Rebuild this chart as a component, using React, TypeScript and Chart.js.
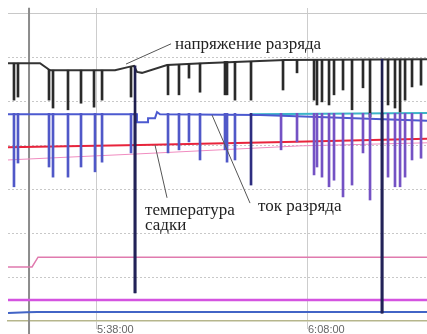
import React, { useEffect, useRef } from 'react';
import { Chart, registerables } from 'chart.js';

Chart.register(...registerables);

// time axis: minutes after 5:00:00
const X_MIN = 25.35;
const X_MAX = 84.92;
const TIME_TICKS = [38, 68];

// discharge voltage baseline
const voltageTime = [25.35, 29.9, 31.32, 40.56, 42.41, 43.26, 43.69, 44.4, 47.96, 53.08, 64.73, 84.92];
const voltageValue = [58.6, 58.6, 57.0, 57.0, 57.7, 58.0, 56.6, 56.4, 58.2, 58.6, 59.3, 59.5];

// voltage dips
const vSpikeTime = [26.2, 26.77, 31.18, 31.75, 33.88, 35.73, 37.58, 38.72, 42.84, 43.41, 48.1, 49.66, 51.08, 52.65, 56.2, 56.49, 57.62, 59.9, 64.45, 66.44, 68.86, 69.28, 69.99, 70.99, 71.7, 72.98, 74.26, 75.82, 76.82, 78.53, 79.38, 80.37, 81.09, 81.8, 82.79, 84.07];
const vSpikeTop = [58.6, 58.6, 57.2, 57.0, 57.0, 57.0, 57.0, 57.0, 57.7, 58.0, 58.2, 58.3, 58.4, 58.6, 59.0, 59.0, 59.0, 59.0, 59.3, 59.3, 59.3, 59.3, 59.3, 59.3, 59.3, 59.4, 59.4, 59.4, 59.5, 59.5, 59.5, 59.5, 59.5, 59.5, 59.5, 59.5];
const vSpikeLow = [50.2, 50.9, 50.2, 48.4, 48.0, 49.5, 48.6, 50.2, 50.9, 6.4, 51.4, 51.4, 55.2, 52.0, 51.4, 51.4, 50.2, 50.2, 52.5, 56.4, 50.2, 49.1, 49.8, 49.1, 51.4, 52.5, 48.0, 53.0, 46.4, 1.8, 49.1, 48.4, 47.5, 50.2, 53.2, 53.6];

// discharge current baseline
const currentTime = [25.35, 43.69, 43.69, 45.26, 45.26, 46.25, 46.54, 46.96, 61.18, 84.92];
const currentValue = [47.0, 47.0, 45.2, 45.2, 46.1, 46.1, 47.5, 47.0, 46.8, 45.5];
const CURRENT_TOP = 47.2;

// current dips
const cSpikeTime = [26.2, 26.77, 31.18, 31.75, 33.88, 35.73, 37.72, 38.72, 42.84, 43.41, 48.1, 49.66, 51.08, 52.65, 56.2, 56.49, 57.62, 59.9, 64.17, 66.44, 68.86, 69.28, 69.99, 70.99, 71.7, 72.98, 74.26, 75.82, 76.82, 78.53, 79.38, 80.37, 81.09, 81.8, 82.79, 84.07];
const cSpikeLow = [30.5, 35.9, 35.0, 32.7, 32.7, 35.0, 33.9, 36.1, 38.2, 6.4, 38.2, 38.9, 40.7, 36.6, 38.9, 36.1, 36.6, 30.9, 38.9, 40.7, 33.2, 35.0, 32.7, 30.5, 32.0, 28.2, 30.9, 38.2, 27.5, 1.8, 32.7, 30.5, 30.5, 32.7, 36.6, 37.0];

const cyanTime = [59.76, 84.92];
const cyanValue = [47.0, 47.3];

const redTime = [25.35, 44.12, 64.73, 84.92];
const redValue = [39.5, 40.0, 40.7, 41.4];

const pinkTime = [25.35, 44.12, 66.87, 84.92];
const pinkValue = [36.6, 38.0, 39.8, 40.5];

const pinkStepTime = [25.35, 28.77, 29.62, 84.92];
const pinkStepValue = [12.3, 12.3, 14.5, 14.5];

const magentaTime = [25.35, 84.92];
const magentaValue = [4.8, 4.8];

const lowBlueTime = [25.35, 28.0, 29.5, 84.92];
const lowBlueValue = [1.8, 2.0, 2.05, 2.05];

const cursorTime = [28.34, 28.34];
const cursorValue = [71.2, -3];

const labelTexts = ['напряжение разряда', 'температура', 'садки', 'ток разряда'];

const pts = (xs: number[], ys: number[]) => xs.map((x, i) => ({ x, y: ys[i] }));

const fmtTime = (m: number) => {
  const h = 5 + Math.floor(m / 60);
  const mm = Math.round(m % 60);
  return `${h}:${String(mm).padStart(2, '0')}:00`;
};

const annotationPlugin = {
  id: 'annotations',
  afterDatasetsDraw(chart: any) {
    const { ctx, scales } = chart;
    const X = (t: number) => scales.x.getPixelForValue(t);
    const Y = (v: number) => scales.y.getPixelForValue(v);
    const leaders = [
      [48.53, 63.0, 42.13, 58.4],
      [46.25, 40.0, 47.96, 28.0],
      [54.36, 46.8, 59.76, 26.8],
    ];
    const labelPos = [
      [49.09, 61.8],
      [44.83, 24.1],
      [44.83, 20.7],
      [60.9, 25.0],
    ];
    ctx.save();
    ctx.strokeStyle = '#555';
    ctx.lineWidth = 1;
    leaders.forEach(([a, b, c, d]) => {
      ctx.beginPath();
      ctx.moveTo(X(a), Y(b));
      ctx.lineTo(X(c), Y(d));
      ctx.stroke();
    });
    ctx.fillStyle = '#222';
    ctx.font = '17px "Liberation Serif", "DejaVu Serif", serif';
    ctx.textAlign = 'left';
    ctx.textBaseline = 'alphabetic';
    labelTexts.forEach((s, i) => {
      ctx.fillText(s, X(labelPos[i][0]), Y(labelPos[i][1]));
    });
    ctx.restore();
  },
};

export default function App() {
  const ref = useRef<HTMLCanvasElement>(null);

  useEffect(() => {
    document.body.style.margin = '0';
    const canvas = ref.current;
    if (!canvas) return;
    const chart = new Chart(canvas, {
      type: 'line',
      data: {
        datasets: [
          {
            type: 'bar',
            label: 'current dips',
            data: cSpikeTime.map((x, i) => ({ x, y: [cSpikeLow[i], CURRENT_TOP] })),
            backgroundColor: (c: any) => {
              const r = c.raw;
              if (!r) return '#5a50c4';
              if (r.y[0] < 10) return '#222258';
              if (r.x > 59 && r.x < 61) return '#2e2e80';
              return r.x < 60 ? '#5058c8' : '#7452c4';
            },
            barThickness: 2,
            grouped: false,
            order: 1,
          } as any,
          {
            type: 'bar',
            label: 'voltage dips',
            data: vSpikeTime.map((x, i) => ({ x, y: [vSpikeLow[i], vSpikeTop[i]] })),
            backgroundColor: (c: any) => (c.raw && c.raw.y[0] < 10 ? '#1e1e4e' : '#2a2a2a'),
            barThickness: 2,
            grouped: false,
            order: 2,
          } as any,
          {
            label: 'напряжение разряда',
            data: pts(voltageTime, voltageValue),
            borderColor: '#333',
            borderWidth: 2,
            pointRadius: 0,
            tension: 0,
            order: 3,
          },
          {
            label: 'ток разряда',
            data: pts(currentTime, currentValue),
            borderColor: '#4c5ad0',
            borderWidth: 2,
            pointRadius: 0,
            tension: 0,
            order: 4,
          },
          {
            label: 'cyan',
            data: pts(cyanTime, cyanValue),
            borderColor: '#3cb4c8',
            borderWidth: 2,
            pointRadius: 0,
            order: 5,
          },
          {
            label: 'температура садки',
            data: pts(redTime, redValue),
            borderColor: '#e8243c',
            borderWidth: 2,
            pointRadius: 0,
            order: 6,
          },
          {
            label: 'pink',
            data: pts(pinkTime, pinkValue),
            borderColor: '#f08cc0',
            borderWidth: 1,
            pointRadius: 0,
            order: 7,
          },
          {
            label: 'pink step',
            data: pts(pinkStepTime, pinkStepValue),
            borderColor: '#e07aae',
            borderWidth: 1.5,
            pointRadius: 0,
            order: 8,
          },
          {
            label: 'magenta',
            data: pts(magentaTime, magentaValue),
            borderColor: '#d453e0',
            borderWidth: 2.5,
            pointRadius: 0,
            order: 9,
          },
          {
            label: 'low blue',
            data: pts(lowBlueTime, lowBlueValue),
            borderColor: '#4264c6',
            borderWidth: 2,
            pointRadius: 0,
            order: 10,
          },
          {
            label: 'cursor',
            data: pts(cursorTime, cursorValue),
            borderColor: '#8c8c8c',
            borderWidth: 2,
            pointRadius: 0,
            clip: false,
            order: 11,
          } as any,
        ],
      },
      options: {
        animation: false,
        responsive: false,
        devicePixelRatio: 1,
        layout: { padding: { left: 8, top: 8, right: 0, bottom: 0 } },
        plugins: { legend: { display: false }, tooltip: { enabled: false } },
        scales: {
          x: {
            type: 'linear',
            min: X_MIN,
            max: X_MAX,
            offset: false,
            afterBuildTicks: (s: any) => {
              s.ticks = TIME_TICKS.map((v) => ({ value: v }));
            },
            afterFit: (s: any) => {
              s.height = 13;
            },
            ticks: {
              autoSkip: false,
              maxRotation: 0,
              align: 'start',
              padding: -6,
              color: '#666',
              font: { size: 11, family: '"Liberation Sans", Arial, sans-serif' },
              callback: (v: any) => fmtTime(Number(v)),
            },
            grid: { offset: false, color: '#cdcdcd', lineWidth: 1, drawTicks: true, tickLength: 8 },
            border: { display: true, color: '#b6b68c', width: 1.5 },
          },
          y: {
            type: 'linear',
            min: 0,
            max: 71.14,
            ticks: { display: false, stepSize: 10, includeBounds: false },
            afterFit: (s: any) => {
              s.width = 0;
            },
            grid: {
              offset: false,
              drawTicks: false,
              color: (c: any) => (c.tick && c.tick.value === 0 ? 'rgba(0,0,0,0)' : '#c8c8c8'),
            },
            border: {
              display: false,
              dash: (c: any) => (c.tick && c.tick.value === 70 ? [] : [2, 2]),
            },
          },
        },
      } as any,
      plugins: [annotationPlugin],
    });
    return () => chart.destroy();
  }, []);

  return (
    <div style={{ width: 427, height: 334, position: 'relative' }}>
      <canvas ref={ref} width={427} height={334} style={{ display: 'block' }} />
    </div>
  );
}
